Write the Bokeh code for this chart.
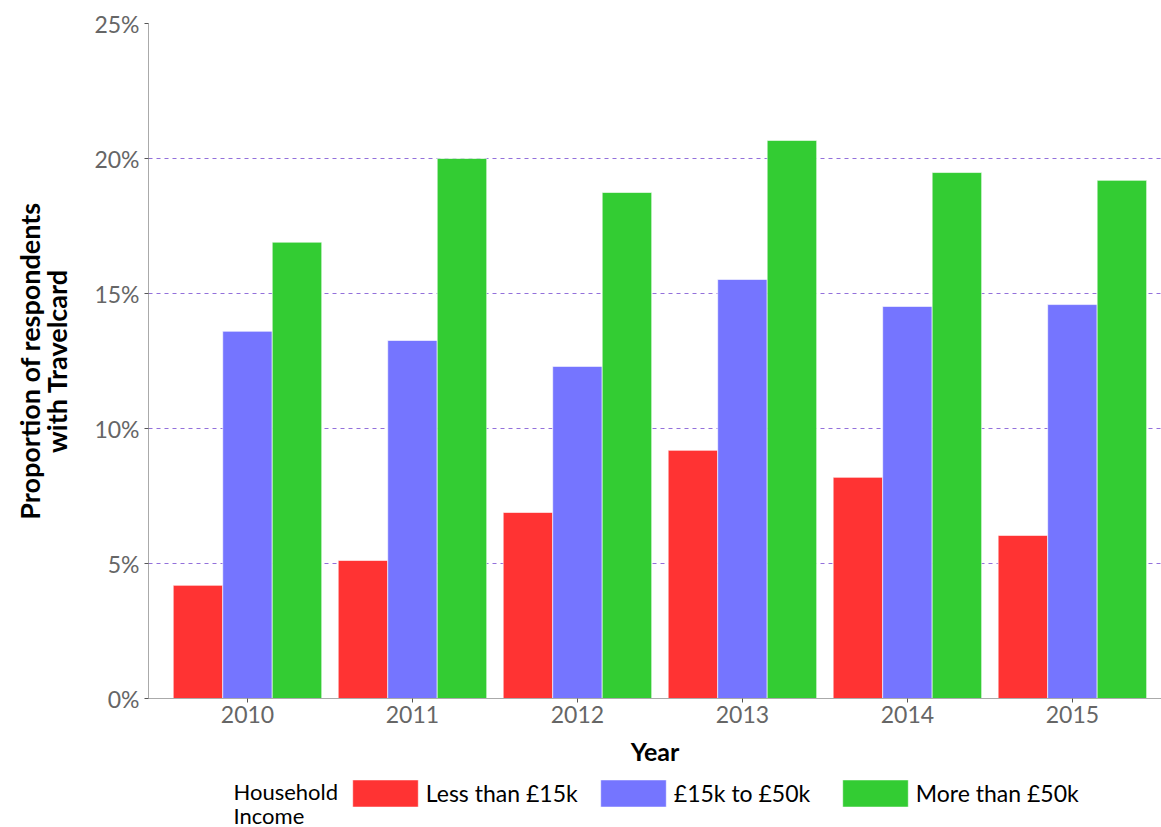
from bokeh.plotting import figure
from bokeh.layouts import column
from bokeh.models import (ColumnDataSource, NumeralTickFormatter, FixedTicker, Legend,
                          LegendItem, Label, Range1d)
from bokeh.embed import file_html
from bokeh.resources import INLINE

years = ["2010", "2011", "2012", "2013", "2014", "2015"]
series_names = ["Less than £15k", "£15k to £50k", "More than £50k"]
less_15k = [0.0419, 0.0511, 0.0689, 0.0919, 0.0819, 0.0604]
mid_15_50k = [0.1360, 0.1326, 0.1230, 0.1552, 0.1452, 0.1459]
more_50k = [0.1690, 0.2000, 0.1874, 0.2067, 0.1948, 0.1919]
colors = ["#FF3333", "#7575FF", "#33CC33"]
legend_title = "Household\nIncome"

FONT = "Lato"
MAIN_H = 772
FRAME_L = 148

p = figure(width=1161, height=MAIN_H, output_backend="svg", toolbar_location=None,
           x_range=Range1d(-0.6, 5.54), y_range=Range1d(0, 0.25),
           min_border_left=FRAME_L, min_border_right=0, min_border_top=23,
           min_border_bottom=MAIN_H - 698)
p.outline_line_color = None
p.background_fill_color = "white"

xs = list(range(len(years)))
for off, vals, col in zip([-0.3, 0.0, 0.3], [less_15k, mid_15_50k, more_50k], colors):
    src = ColumnDataSource(dict(x=[x + off for x in xs], top=vals))
    p.vbar(x="x", top="top", width=0.3, bottom=0, source=src, fill_color=col,
           line_color="white", line_alpha=0.6, line_width=1)

# grid
p.xgrid.grid_line_color = None
p.ygrid.grid_line_color = "#9370DB"
p.ygrid.grid_line_dash = "4 4"
p.ygrid.grid_line_width = 1
p.ygrid.ticker = FixedTicker(ticks=[0.05, 0.10, 0.15, 0.20, 0.25])

# y axis
p.yaxis.ticker = FixedTicker(ticks=[0, 0.05, 0.10, 0.15, 0.20, 0.25])
p.yaxis.formatter = NumeralTickFormatter(format="0%")
p.yaxis.axis_line_color = "#AAAAAA"
p.yaxis.major_tick_line_color = "#555555"
p.yaxis.major_tick_out = 4
p.yaxis.major_tick_in = 0
p.yaxis.minor_tick_line_color = None
p.yaxis.major_label_text_font = FONT
p.yaxis.major_label_text_font_size = "23px"
p.yaxis.major_label_text_color = "#666666"
p.yaxis.major_label_standoff = 5
p.yaxis.axis_label = "Proportion of respondents\nwith Travelcard"
p.yaxis.axis_label_text_font = FONT
p.yaxis.axis_label_text_font_size = "27px"
p.yaxis.axis_label_text_font_style = "bold"
p.yaxis.axis_label_text_color = "black"
p.yaxis.axis_label_text_line_height = 0.84
p.yaxis.axis_label_standoff = 18

# x axis
p.xaxis.ticker = FixedTicker(ticks=xs)
p.xaxis.major_label_overrides = {i: y for i, y in enumerate(years)}
p.xaxis.axis_line_color = "#AAAAAA"
p.xaxis.major_tick_line_color = "#555555"
p.xaxis.major_tick_out = 4
p.xaxis.major_tick_in = 0
p.xaxis.minor_tick_line_color = None
p.xaxis.major_label_text_font = FONT
p.xaxis.major_label_text_font_size = "23px"
p.xaxis.major_label_text_color = "#666666"
p.xaxis.major_label_standoff = 3
p.xaxis.axis_label = "Year"
p.xaxis.axis_label_text_font = FONT
p.xaxis.axis_label_text_font_size = "25px"
p.xaxis.axis_label_text_font_style = "bold"
p.xaxis.axis_label_text_color = "black"
p.xaxis.axis_label_standoff = 10

# legend strip (separate figure below the chart; its frame aligns with the chart's)
LEG_H = 827 - MAIN_H
lf = figure(width=1161, height=LEG_H, output_backend="svg", toolbar_location=None,
            x_axis_location=None, y_axis_location=None,
            x_range=Range1d(0, 1), y_range=Range1d(0, 1),
            min_border_left=0, min_border_right=0,
            min_border_top=0, min_border_bottom=0)
lf.outline_line_color = None
lf.xgrid.visible = False
lf.ygrid.visible = False

GW, GH = 82, 34          # legend glyph box (area glyphs are drawn inset by 10%)
swatch_x = [352, 600, 842]
swatch_bottom = 807
for name, col, sx in zip(series_names, colors, swatch_x):
    # zero-size placeholder renderer outside the visible range, used only for the swatch
    r = lf.vbar(x=[-5], top=[0], bottom=[0], width=0.01, fill_color=col,
                line_color="white", line_alpha=0.6, line_width=1)
    lg = Legend(items=[LegendItem(label=name, renderers=[r])],
                location=(sx - FRAME_L - 0.1 * GW,
                          LEG_H - (swatch_bottom + 0.1 * GH - MAIN_H)),
                glyph_width=GW, glyph_height=GH, label_standoff=0,
                padding=0, margin=0, spacing=0,
                border_line_color=None, background_fill_alpha=0,
                label_text_font=FONT, label_text_font_size="23px",
                label_text_color="black")
    lf.add_layout(lg, "center")

lab = Label(x=233 - FRAME_L, y=LEG_H - 5, x_units="screen", y_units="screen",
            text=legend_title, text_font=FONT, text_font_size="22px",
            text_color="black", text_baseline="top", text_align="left",
            text_line_height=0.9)
lf.add_layout(lab)

layout = column(p, lf, spacing=0)
open("out.html", "w").write(file_html(layout, INLINE))
